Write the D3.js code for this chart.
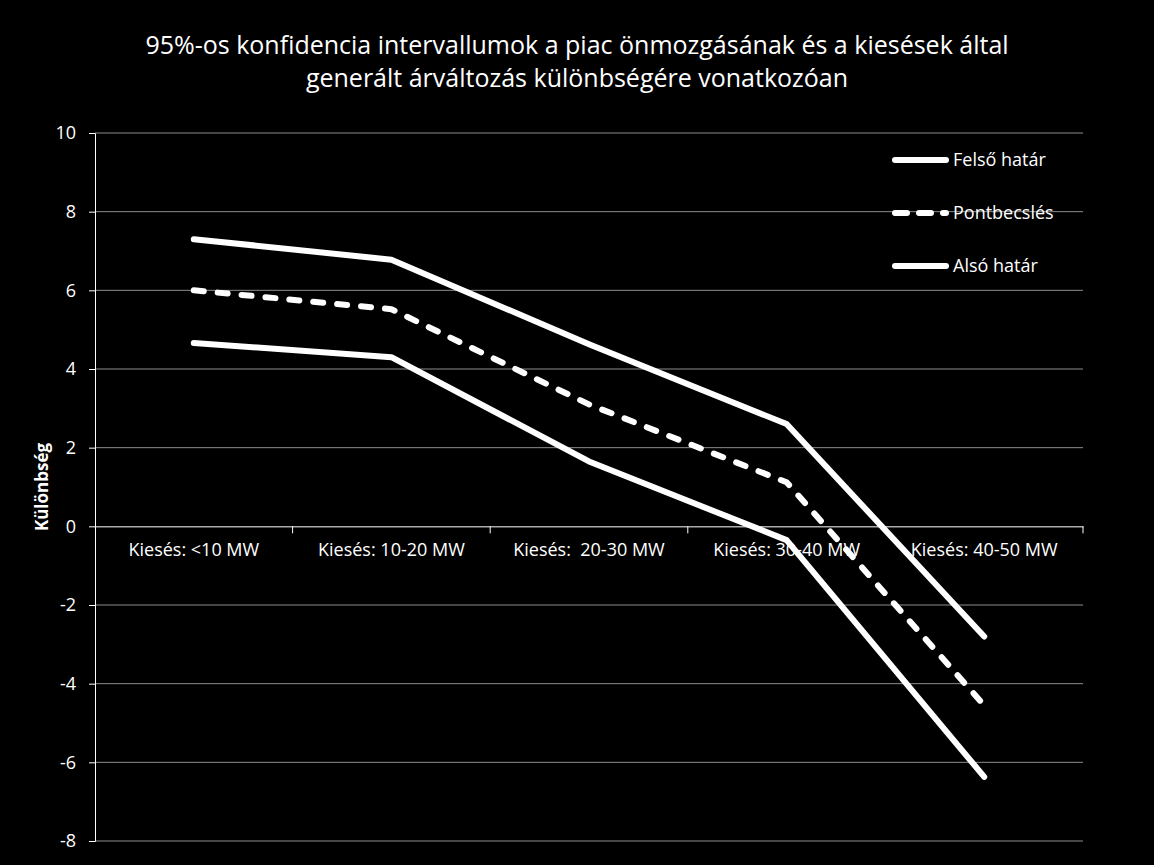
<!DOCTYPE html>
<html>
<head>
<meta charset="utf-8">
<script src="https://cdn.jsdelivr.net/npm/d3@7"></script>
<style>
  body { margin: 0; background: #000; }
  svg { display: block; }
  text { font-family: "Open Sans", "Noto Sans", sans-serif; fill: #fff; }
</style>
</head>
<body>
<div class="graph"></div>
<script>
// data
const categories = ["Kiesés: <10 MW", "Kiesés: 10-20 MW", "Kiesés:  20-30 MW", "Kiesés: 30-40 MW", "Kiesés: 40-50 MW"]
const felso = [7.3, 6.78, 4.63, 2.6, -2.8]
const pont = [6.0, 5.52, 3.1, 1.12, -4.55]
const also = [4.66, 4.3, 1.65, -0.35, -6.37]
const yTicks = [-8, -6, -4, -2, 0, 2, 4, 6, 8, 10]
const titleLines = ["95%-os konfidencia intervallumok a piac önmozgásának és a kiesések által",
                    "generált árváltozás különbségére vonatkozóan"]
const yLabel = "Különbség"

const series = [
  {name: "Felső határ", values: felso, dash: null},
  {name: "Pontbecslés", values: pont, dash: "10,14"},
  {name: "Alsó határ", values: also, dash: null}
]

const W = 1154, H = 865
const pLeft = 95, pRight = 1083, pTop = 133, pBottom = 841

let svg = d3.select('.graph')
    .append('svg')
    .attr("width", W)
    .attr("height", H)

svg.append('rect').attr('width', W).attr('height', H).attr('fill', '#000')

let x = d3.scaleBand().domain(categories).range([pLeft, pRight])
let y = d3.scaleLinear().domain([-8, 10]).range([pBottom, pTop])

// gridlines
svg.append('g')
    .selectAll('line')
    .data(yTicks.filter(d => d !== 0))
    .enter()
    .append('line')
    .attr('x1', pLeft).attr('x2', pRight)
    .attr('y1', d => y(d)).attr('y2', d => y(d))
    .attr('stroke', '#8c8c8c').attr('stroke-width', 1)

// y axis
let yAxis = svg.append('g')
    .attr('transform', `translate(${pLeft},0)`)
    .call(d3.axisLeft(y).tickValues(yTicks).tickFormat(d => String(d)).tickSize(6).tickPadding(13))
yAxis.select('.domain').attr('stroke', '#fff')
yAxis.selectAll('.tick line').attr('stroke', '#fff')
yAxis.selectAll('.tick text').attr('fill', '#fff').style('font-size', '18px')
  .style('font-family', '"Open Sans", sans-serif')

// zero line / category axis
let xAxis = svg.append('g')
    .attr('transform', `translate(0,${y(0)})`)
    .call(d3.axisBottom(x).tickSize(0).tickPadding(17))
xAxis.select('.domain').attr('stroke', '#fff')
xAxis.selectAll('.tick text').attr('fill', '#fff').style('font-size', '18px')
  .style('font-family', '"Open Sans", sans-serif')
  .style('white-space', 'pre')
// category tick marks at band edges
svg.append('g')
    .selectAll('line')
    .data(categories.slice(1).concat(['end']))
    .enter()
    .append('line')
    .attr('x1', d => d === 'end' ? pRight : x(d))
    .attr('x2', d => d === 'end' ? pRight : x(d))
    .attr('y1', y(0)).attr('y2', y(0) + 7)
    .attr('stroke', '#fff')

// lines
let line = d3.line()
    .x((d, i) => x(categories[i]) + x.bandwidth() / 2)
    .y(d => y(d))

svg.append('g')
    .selectAll('path')
    .data(series)
    .enter()
    .append('path')
    .attr('d', d => line(d.values))
    .attr('fill', 'none')
    .attr('stroke', '#fff')
    .attr('stroke-width', 6)
    .attr('stroke-linecap', 'round')
    .attr('stroke-linejoin', 'round')
    .attr('stroke-dasharray', d => d.dash)

// legend
let leg = svg.append('g')
    .selectAll('g')
    .data(series)
    .enter()
    .append('g')
    .attr('transform', (d, i) => `translate(892,${160 + i * 53})`)
leg.append('line')
    .attr('x1', 3).attr('x2', 54)
    .attr('stroke', '#fff').attr('stroke-width', 6)
    .attr('stroke-linecap', 'round')
    .attr('stroke-dasharray', d => d.dash ? "12,12" : null)
leg.append('text')
    .attr('x', 61).attr('dy', '0.35em')
    .style('font-size', '18px')
    .text(d => d.name)

// title
svg.append('g')
    .selectAll('text')
    .data(titleLines)
    .enter()
    .append('text')
    .attr('x', W / 2)
    .attr('y', (d, i) => 45 + i * 33)
    .attr('text-anchor', 'middle')
    .attr('dy', '0.35em')
    .style('font-size', '25px')
    .text(d => d)

// y label
svg.append('text')
    .attr('transform', `translate(42,${(pTop + pBottom) / 2}) rotate(-90)`)
    .attr('text-anchor', 'middle')
    .attr('dy', '0.35em')
    .style('font-size', '17px')
    .style('font-weight', 'bold')
    .text(yLabel)
</script>
</body>
</html>
